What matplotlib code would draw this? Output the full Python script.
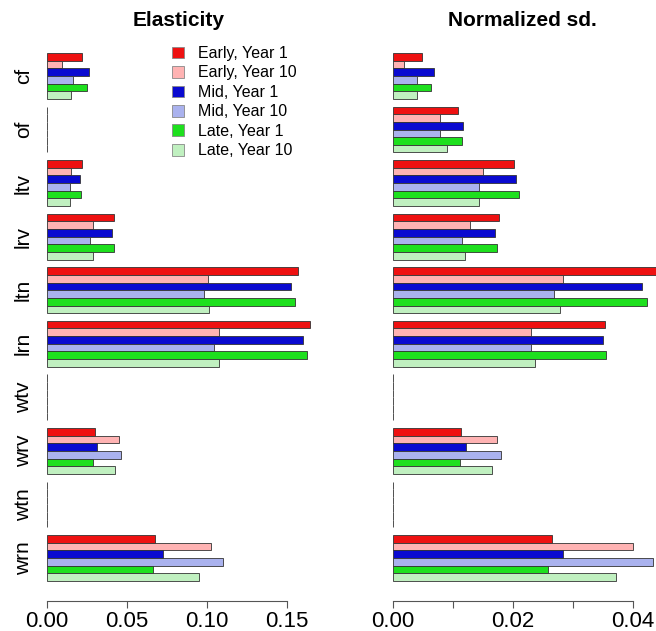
import numpy as np
import matplotlib.pyplot as plt
from matplotlib.patches import Patch

plt.rcParams['font.family'] = ['Liberation Sans', 'DejaVu Sans']

# 参数名 (从上到下)
params = ['cf', 'of', 'ltv', 'lrv', 'ltn', 'lrn', 'wtv', 'wrv', 'wtn', 'wrn']
series = ['Early, Year 1', 'Early, Year 10', 'Mid, Year 1',
          'Mid, Year 10', 'Late, Year 1', 'Late, Year 10']
colors = ['#ee1111', '#ffb3b3', '#0a0ad0', '#aab2ee', '#1ee01e', '#c0f0c0']

# Elasticity, 每行一个series, 每列一个参数
elast = np.array([
    [0.022, 0.0, 0.022, 0.042, 0.157, 0.1647, 0.0002, 0.030, 0.0004, 0.068],
    [0.0095, 0.0, 0.015, 0.029, 0.101, 0.108, 0.0002, 0.0455, 0.0004, 0.1026],
    [0.0268, 0.0, 0.021, 0.041, 0.1528, 0.160, 0.0002, 0.0318, 0.0004, 0.0726],
    [0.0168, 0.0, 0.0147, 0.0272, 0.0986, 0.1047, 0.0002, 0.0468, 0.0004, 0.1105],
    [0.0255, 0.0, 0.0218, 0.0422, 0.1553, 0.1626, 0.0002, 0.0293, 0.0004, 0.0664],
    [0.0153, 0.0, 0.0147, 0.0289, 0.1018, 0.108, 0.0002, 0.0428, 0.0004, 0.0951],
])

# Normalized sd.
nsd = np.array([
    [0.0048, 0.0108, 0.0202, 0.0177, 0.0448, 0.0353, 0.0001, 0.0114, 0.0001, 0.0266],
    [0.0019, 0.0079, 0.0150, 0.0129, 0.0283, 0.0231, 0.0001, 0.0173, 0.0001, 0.0400],
    [0.0068, 0.0117, 0.0206, 0.0170, 0.0416, 0.0351, 0.0001, 0.0122, 0.0001, 0.0283],
    [0.0041, 0.0079, 0.0143, 0.0115, 0.0269, 0.0231, 0.0001, 0.0180, 0.0001, 0.0433],
    [0.0063, 0.0115, 0.0211, 0.0173, 0.0423, 0.0356, 0.0001, 0.0112, 0.0001, 0.0258],
    [0.0040, 0.0090, 0.0144, 0.0120, 0.0278, 0.0237, 0.0001, 0.0165, 0.0001, 0.0372],
])

W, H = 656, 631
fig = plt.figure(figsize=(W / 100, H / 100), dpi=100)

# 条形的位置: 每组6根 + 1个空隙
ng, ns = len(params), len(series)
unit = 528 / (ng * 7 - 1)         # 每根条形的像素高度
top_px, bot_px = 40, 601          # 坐标轴上下边界 (像素)
ylim = ((bot_px - 53) / unit, (top_px - 53) / unit)


def make_ax(x0_px, x1_px, zero_px, px_per_unit):
    ax = fig.add_axes([x0_px / W, 1 - bot_px / H, (x1_px - x0_px) / W, (bot_px - top_px) / H])
    ax.set_xlim((x0_px - zero_px) / px_per_unit, (x1_px - zero_px) / px_per_unit)
    ax.set_ylim(*ylim)
    for s in ['top', 'right', 'left']:
        ax.spines[s].set_visible(False)
    ax.patch.set_alpha(0)
    return ax


def draw(ax, data):
    for j in range(ns):
        y = np.arange(ng) * 7 + j + 0.5
        ax.barh(y, data[j], height=1.0, left=0, color=colors[j],
                edgecolor='#333333', linewidth=0.6)


axL = make_ax(40, 330, 46.5, 1600)
draw(axL, elast)
axL.spines['bottom'].set_bounds(0, 0.15)
axL.set_xticks([0, 0.05, 0.10, 0.15])
axL.set_xticklabels(['0.00', '0.05', '0.10', '0.15'])
axL.set_yticks(np.arange(ng) * 7 + 3)
axL.set_yticklabels(params, rotation=90, va='center')
axL.tick_params(axis='y', length=0, pad=5, labelsize=15)

axR = make_ax(385, 656, 392.7, 6000)
draw(axR, nsd)
axR.spines['bottom'].set_bounds(0, 0.04)
axR.set_xticks([0, 0.01, 0.02, 0.03, 0.04])
axR.set_xticklabels(['0.00', '', '0.02', '', '0.04'])
axR.set_yticks([])

for ax in (axL, axR):
    ax.spines['bottom'].set_color('#555555')
    ax.tick_params(axis='x', labelsize=16, length=5, color='#555555', pad=2)

fig.text(179 / W, 1 - 20 / H, 'Elasticity', ha='center', va='center',
         fontsize=15, fontweight='bold')
fig.text(522 / W, 1 - 20 / H, 'Normalized sd.', ha='center', va='center',
         fontsize=15, fontweight='bold')

handles = [Patch(facecolor=c, edgecolor='#888888', linewidth=0.6) for c in colors]
fig.legend(handles, series, loc='upper left', bbox_to_anchor=(172 / W, 1 - 46 / H),
           frameon=False, fontsize=11.5, handlelength=0.75, handleheight=0.75,
           handletextpad=0.9, labelspacing=0.28, borderaxespad=0, borderpad=0)

fig.savefig('out.png', dpi=100)
